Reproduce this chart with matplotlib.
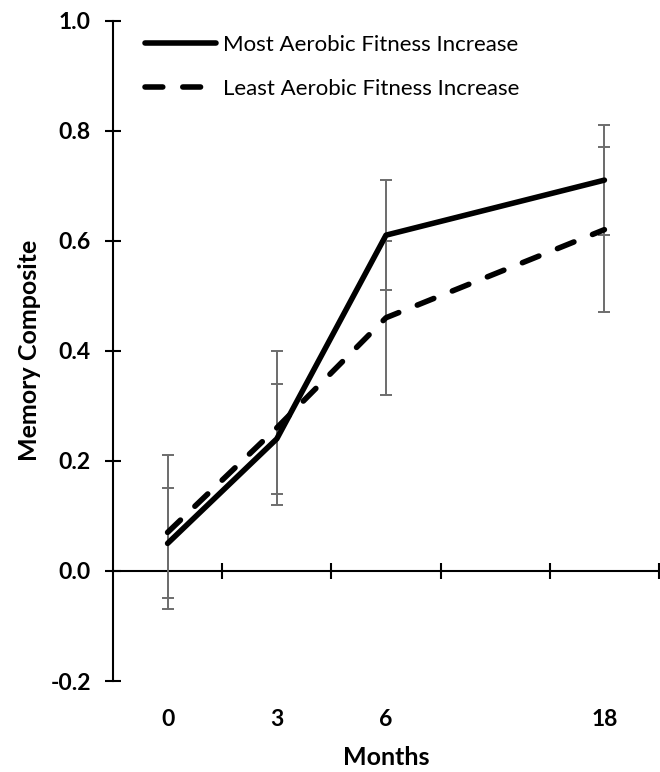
import matplotlib
matplotlib.use('Agg')
import matplotlib.pyplot as plt

# memory composite by months, two fitness groups
months = ['0', '3', '6', '18']
month_pos = [0, 1, 2, 4]   # category slots (slot 3 has no label)
most_fit = [0.05, 0.24, 0.61, 0.71]
most_err = [0.10, 0.10, 0.10, 0.10]
least_fit = [0.07, 0.26, 0.46, 0.62]
least_err = [0.14, 0.14, 0.14, 0.15]
y_ticks = [-0.2, 0.0, 0.2, 0.4, 0.6, 0.8, 1.0]

plt.rcParams['font.family'] = ['Lato', 'DejaVu Sans']

fig = plt.figure(figsize=(6.6, 7.72), dpi=100)
ax = fig.add_axes([113 / 660, 1 - 681 / 772, 546 / 660, 660.5 / 772])

err_col = '#6d6d6d'
ax.errorbar(month_pos, least_fit, yerr=least_err, fmt='none', ecolor=err_col,
            elinewidth=1.4, capsize=4, capthick=1.4, zorder=2)
ax.errorbar(month_pos, most_fit, yerr=most_err, fmt='none', ecolor=err_col,
            elinewidth=1.4, capsize=4, capthick=1.4, zorder=2)

ax.plot(month_pos, most_fit, color='black', lw=4, solid_capstyle='round',
        solid_joinstyle='round', label='Most Aerobic Fitness Increase', zorder=3)
ax.plot(month_pos, least_fit, color='black', lw=4, dashes=(3.2, 3.6),
        dash_capstyle='round', label='Least Aerobic Fitness Increase', zorder=3)

ax.set_xlim(-0.5, 4.5)
ax.set_ylim(-0.2, 1.0)

tick_fs = 16.5
label_fs = 18

# y axis
ax.set_yticks(y_ticks)
ax.set_yticklabels(['%.1f' % v for v in y_ticks], fontsize=tick_fs, fontweight='bold')
ax.tick_params(axis='y', direction='inout', length=12, width=1.5, pad=10)
ax.spines['left'].set_linewidth(1.5)
for s in ['top', 'right', 'bottom']:
    ax.spines[s].set_visible(False)

# category labels at the bottom, no tick marks
ax.set_xticks(month_pos)
ax.set_xticklabels(months, fontsize=tick_fs, fontweight='bold')
ax.tick_params(axis='x', length=0, pad=20)

# zero line with category dividers
zero_ax = ax.secondary_xaxis(0, transform=ax.transData)
zero_ax.set_xticks([0.5, 1.5, 2.5, 3.5, 4.5])
zero_ax.set_xticklabels([])
zero_ax.tick_params(direction='inout', length=12, width=1.5)
zero_ax.spines['bottom'].set_linewidth(1.5)

ax.set_xlabel('Months', fontsize=label_fs, fontweight='bold', labelpad=12)
ax.set_ylabel('Memory Composite', fontsize=label_fs, fontweight='bold', labelpad=7)

ax.legend(loc='upper left', bbox_to_anchor=(0.022, 1.008), frameon=False,
          fontsize=16, handlelength=3.2, handletextpad=0.3, labelspacing=1.08)

fig.savefig('out.png', dpi=100)
